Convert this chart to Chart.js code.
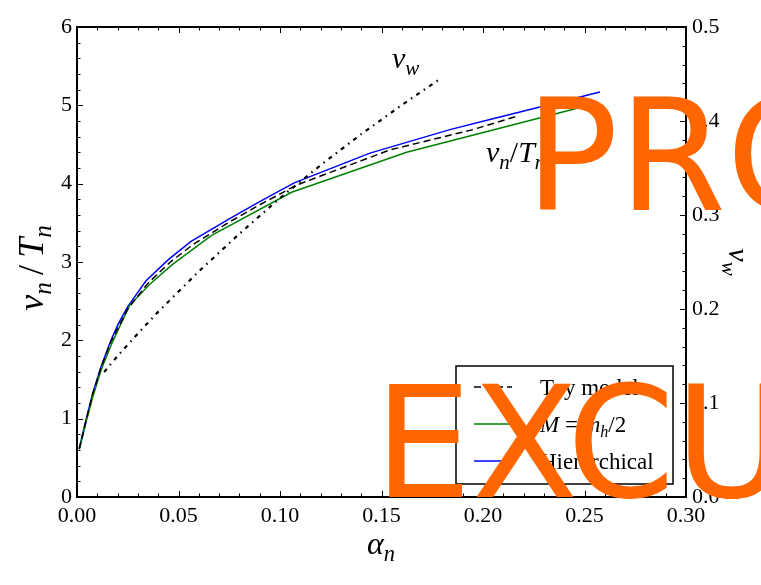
<!DOCTYPE html>
<html>
<head>
<meta charset="utf-8">
<script src="https://cdn.jsdelivr.net/npm/chart.js@4/dist/chart.umd.min.js"></script>
<style>
html,body{margin:0;padding:0;background:#fff;}
#wrap{width:761px;height:585px;position:relative;}
</style>
</head>
<body>
<div id="wrap"><canvas id="c" width="761" height="585"></canvas></div>
<script>
// ---- data ----
const alphaToy = [0.0011, 0.0044, 0.0077, 0.0118, 0.0167, 0.025, 0.035, 0.046, 0.057, 0.075, 0.090, 0.108, 0.154, 0.195, 0.2166];
const vnToy    = [0.61, 0.97, 1.31, 1.65, 1.98, 2.40, 2.73, 3.00, 3.22, 3.51, 3.73, 3.98, 4.43, 4.69, 4.86];

const alphaHalf = [0.0013, 0.0047, 0.008, 0.012, 0.017, 0.020, 0.026, 0.036, 0.0466, 0.0663, 0.1057, 0.1624, 0.2445, 0.250];
const vnHalf    = [0.62, 0.98, 1.30, 1.63, 1.95, 2.12, 2.45, 2.72, 2.96, 3.34, 3.89, 4.40, 4.95, 4.99];

const alphaHier = [0.0011, 0.0044, 0.0077, 0.0118, 0.0167, 0.0205, 0.025, 0.034, 0.045, 0.056, 0.075, 0.090, 0.107, 0.1443, 0.164, 0.1837, 0.2034, 0.2576];
const vnHier    = [0.62, 0.98, 1.32, 1.66, 2.00, 2.22, 2.43, 2.76, 3.03, 3.26, 3.55, 3.77, 4.01, 4.39, 4.54, 4.69, 4.82, 5.17];

const alphaVw = [0.0134, 0.02, 0.03, 0.04, 0.06, 0.08, 0.10, 0.12, 0.14, 0.16, 0.1796];
const vwVals  = [0.133, 0.150, 0.174, 0.197, 0.240, 0.280, 0.318, 0.353, 0.386, 0.417, 0.446];

const seriesLabels = ["Toy model", "M = m_h/2", "Hierarchical"];
const xTicks  = [0.00, 0.05, 0.10, 0.15, 0.20, 0.25, 0.30];
const yTicks  = [0, 1, 2, 3, 4, 5, 6];
const y1Ticks = [0.0, 0.1, 0.2, 0.3, 0.4, 0.5];

const pts = (xs, ys) => xs.map((x, i) => ({x: x, y: ys[i]}));

const SERIF = "'Liberation Serif', 'DejaVu Serif', serif";

// draw simple math-like text: parts = [[text, 'i'|'r'|'si'|'sr']]
function mathWidth(ctx, parts, size) {
  let w = 0;
  for (const [t, s] of parts) {
    const sub = s[0] === 's';
    const it = s.indexOf('i') >= 0;
    const fs = sub ? size * 0.7 : size;
    ctx.font = (it ? 'italic ' : '') + fs + 'px ' + SERIF;
    w += ctx.measureText(t).width;
  }
  return w;
}
function mathDraw(ctx, parts, x, y, size, align) {
  const w = mathWidth(ctx, parts, size);
  let cx = align === 'center' ? x - w / 2 : (align === 'right' ? x - w : x);
  ctx.textAlign = 'left';
  ctx.textBaseline = 'alphabetic';
  for (const [t, s] of parts) {
    const sub = s[0] === 's';
    const it = s.indexOf('i') >= 0;
    const fs = sub ? size * 0.7 : size;
    ctx.font = (it ? 'italic ' : '') + fs + 'px ' + SERIF;
    ctx.fillText(t, cx, y + (sub ? size * 0.22 : 0));
    cx += ctx.measureText(t).width;
  }
}

const decor = {
  id: 'decor',
  afterDraw(chart) {
    const ctx = chart.ctx;
    const a = chart.chartArea;
    const sx = chart.scales.x, sy = chart.scales.y, sy1 = chart.scales.y1;
    ctx.save();
    ctx.strokeStyle = '#000';
    ctx.lineWidth = 1;
    // inward ticks
    const tick = (x1, y1, x2, y2) => { ctx.beginPath(); ctx.moveTo(x1, y1); ctx.lineTo(x2, y2); ctx.stroke(); };
    for (let k = 0; k <= 30; k++) {
      const px = Math.round(sx.getPixelForValue(k / 100)) + 0.5;
      const L = (k % 5 === 0) ? 6 : 3.5;
      tick(px, a.bottom, px, a.bottom - L);
      tick(px, a.top, px, a.top + L);
    }
    for (let k = 0; k <= 30; k++) {
      const py = Math.round(sy.getPixelForValue(k / 5)) + 0.5;
      const L = (k % 5 === 0) ? 6 : 3.5;
      tick(a.left, py, a.left + L, py);
    }
    for (let k = 0; k <= 25; k++) {
      const py = Math.round(sy1.getPixelForValue(k / 50)) + 0.5;
      const L = (k % 5 === 0) ? 6 : 3.5;
      tick(a.right, py, a.right - L, py);
    }
    // frame
    ctx.lineWidth = 2;
    ctx.strokeRect(a.left, a.top, a.right - a.left, a.bottom - a.top);

    // legend
    const ds = chart.data.datasets;
    const lx = 456, ly = 366, lw = 217, lh = 118;
    ctx.fillStyle = '#fff';
    ctx.fillRect(lx, ly, lw, lh);
    ctx.lineWidth = 1.5;
    ctx.strokeStyle = '#000';
    ctx.strokeRect(lx, ly, lw, lh);
    const rows = [387, 424, 461];
    const legendParts = [
      [[seriesLabels[0], 'r']],
      [['M', 'i'], [' = ', 'r'], ['m', 'i'], ['h', 'si'], ['/2', 'r']],
      [[seriesLabels[2], 'r']]
    ];
    [1, 2, 3].forEach((di, r) => {
      const d = ds[di];
      ctx.beginPath();
      ctx.strokeStyle = d.borderColor;
      ctx.lineWidth = d.borderWidth;
      ctx.setLineDash(d.borderDash || []);
      ctx.moveTo(474, rows[r]);
      ctx.lineTo(512, rows[r]);
      ctx.stroke();
      ctx.setLineDash([]);
      ctx.fillStyle = '#000';
      mathDraw(ctx, legendParts[r], 540, rows[r] + 8, 23, 'left');
    });

    // inline labels
    ctx.fillStyle = '#000';
    mathDraw(ctx, [['v', 'i'], ['w', 'si']], 392, 68, 30, 'left');
    mathDraw(ctx, [['v', 'i'], ['n', 'si'], ['/', 'r'], ['T', 'i'], ['n', 'si']], 486, 162, 30, 'left');

    // axis titles
    mathDraw(ctx, [['α', 'i'], ['n', 'si']], 381, 554, 32, 'center');
    ctx.save();
    ctx.translate(43, 268);
    ctx.rotate(-Math.PI / 2);
    mathDraw(ctx, [['v', 'i'], ['n', 'si'], ['\u2009/\u2009', 'r'], ['T', 'i'], ['n', 'si']], 0, 0, 36, 'center');
    ctx.restore();
    ctx.save();
    ctx.translate(729, 262);
    ctx.rotate(Math.PI / 2);
    mathDraw(ctx, [['v', 'i'], ['w', 'si']], 0, 0, 30, 'center');
    ctx.restore();

    // orange overlay text
    ctx.fillStyle = '#ff6600';
    ctx.font = "155px 'DejaVu Sans'";
    ctx.textAlign = 'left';
    ctx.textBaseline = 'alphabetic';
    ctx.fillText('PRO', 525, 210);
    ctx.fillText('EXCU', 374, 497);
    ctx.restore();
  }
};

const tickFont = {family: SERIF, size: 22};

new Chart(document.getElementById('c'), {
  type: 'line',
  data: {
    datasets: [
      {label: 'v_w', data: pts(alphaVw, vwVals), yAxisID: 'y1', borderColor: '#000', borderWidth: 2.2,
       borderDash: [4, 5, 1.5, 5], pointRadius: 0, tension: 0, fill: false},
      {label: seriesLabels[0], data: pts(alphaToy, vnToy), yAxisID: 'y', borderColor: '#000', borderWidth: 1.5,
       borderDash: [7, 4], pointRadius: 0, tension: 0, fill: false},
      {label: seriesLabels[1], data: pts(alphaHalf, vnHalf), yAxisID: 'y', borderColor: '#008000', borderWidth: 1.5,
       pointRadius: 0, tension: 0, fill: false},
      {label: seriesLabels[2], data: pts(alphaHier, vnHier), yAxisID: 'y', borderColor: '#0000ff', borderWidth: 1.5,
       pointRadius: 0, tension: 0, fill: false}
    ]
  },
  options: {
    responsive: false,
    animation: false,
    events: [],
    layout: {padding: {top: 27, left: 0, right: 0, bottom: 0}},
    plugins: {legend: {display: false}, tooltip: {enabled: false}},
    scales: {
      x: {
        type: 'linear', position: 'bottom', min: 0, max: 0.3,
        grid: {display: false, drawTicks: false}, border: {display: false},
        afterBuildTicks: s => { s.ticks = xTicks.map(v => ({value: v})); },
        ticks: {font: tickFont, color: '#000', padding: 6, maxRotation: 0, autoSkip: false,
                callback: v => Number(v).toFixed(2)},
        afterFit: s => { s.height = 88; }
      },
      y: {
        type: 'linear', position: 'left', min: 0, max: 6,
        grid: {display: false, drawTicks: false}, border: {display: false},
        afterBuildTicks: s => { s.ticks = yTicks.map(v => ({value: v})); },
        ticks: {font: tickFont, color: '#000', padding: 5, autoSkip: false,
                callback: v => String(v)},
        afterFit: s => { s.width = 77; }
      },
      y1: {
        type: 'linear', position: 'right', min: 0, max: 0.5,
        grid: {display: false, drawTicks: false}, border: {display: false},
        afterBuildTicks: s => { s.ticks = y1Ticks.map(v => ({value: v})); },
        ticks: {font: tickFont, color: '#000', padding: 6, autoSkip: false,
                callback: v => Number(v).toFixed(1)},
        afterFit: s => { s.width = 75; }
      }
    }
  },
  plugins: [decor]
});
</script>
</body>
</html>
